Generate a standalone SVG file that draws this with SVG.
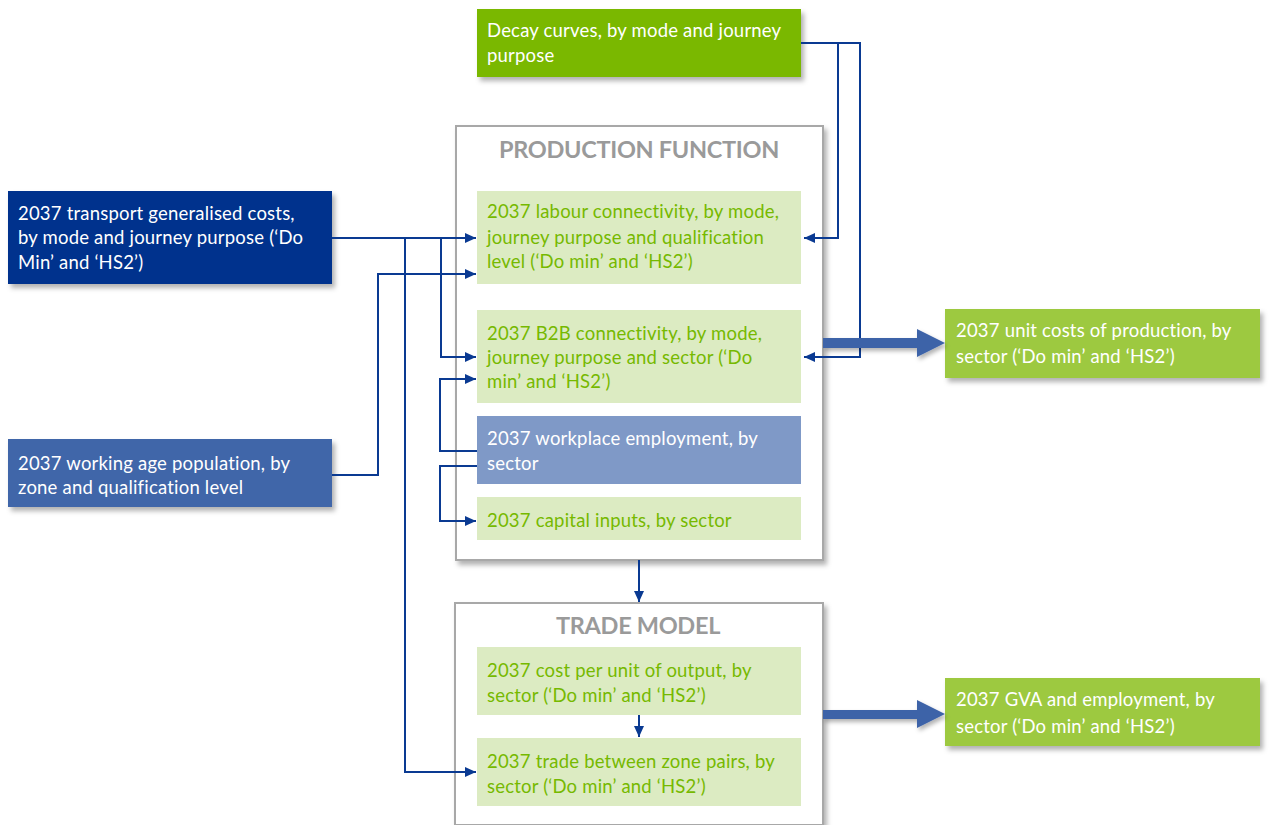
<svg xmlns="http://www.w3.org/2000/svg" width="1269" height="825" viewBox="0 0 1269 825">
<defs>
<filter id="sh" x="-10%" y="-10%" width="125%" height="140%">
<feDropShadow dx="3" dy="4" stdDeviation="2.5" flood-color="#000" flood-opacity="0.3"/>
</filter>
<filter id="sh2" x="-10%" y="-30%" width="125%" height="180%">
<feDropShadow dx="2" dy="3" stdDeviation="2" flood-color="#000" flood-opacity="0.3"/>
</filter>
<marker id="ah" markerWidth="12" markerHeight="12" refX="11" refY="6" orient="auto" markerUnits="userSpaceOnUse">
<path d="M0,1 L11,6 L0,11 Z" fill="#0a3a92"/>
</marker>
<style>
text{font-family:"Lato","Open Sans","Liberation Sans",sans-serif;font-size:18.5px;letter-spacing:0.2px}
.w{fill:#ffffff}
.g{fill:#76b900}
.t{font-weight:bold;fill:#9a9a9a;font-size:23.5px;text-anchor:middle;letter-spacing:-0.3px}
.frame{fill:#ffffff;stroke:#a8a8a8;stroke-width:2}
.lg{fill:#dcebc2}
.c{fill:none;stroke:#0a3a92;stroke-width:2}
.big{fill:#3e63a8}
</style>
</defs>

<g id="production-function">
<rect class="frame" x="456" y="126" width="367" height="434" filter="url(#sh)"/>
<text class="t" x="639" y="158">PRODUCTION FUNCTION</text>
</g>
<g id="trade-model">
<rect class="frame" x="455" y="603" width="368" height="222" filter="url(#sh)"/>
<text class="t" x="638" y="634">TRADE MODEL</text>
</g>

<g id="decay">
<rect x="477" y="9" width="324" height="68" fill="#7ab800" filter="url(#sh)"/>
<text class="w" x="487" y="37">Decay curves, by mode and journey</text>
<text class="w" x="487" y="62">purpose</text>
</g>

<g id="transport">
<rect x="8" y="191" width="324" height="93" fill="#00338d" filter="url(#sh)"/>
<text class="w" x="18" y="220">2037 transport generalised costs,</text>
<text class="w" x="18" y="244">by mode and journey purpose (‘Do</text>
<text class="w" x="18" y="269">Min’ and ‘HS2’)</text>
</g>

<g id="working-age">
<rect x="8" y="439" width="324" height="68" fill="#3f66a9" filter="url(#sh)"/>
<text class="w" x="18" y="470">2037 working age population, by</text>
<text class="w" x="18" y="494">zone and qualification level</text>
</g>

<g id="labour">
<rect class="lg" x="477" y="191" width="324" height="93"/>
<text class="g" x="487" y="218">2037 labour connectivity, by mode,</text>
<text class="g" x="487" y="244">journey purpose and qualification</text>
<text class="g" x="487" y="268">level (‘Do min’ and ‘HS2’)</text>
</g>

<g id="b2b">
<rect class="lg" x="477" y="310" width="324" height="93"/>
<text class="g" x="487" y="340">2037 B2B connectivity, by mode,</text>
<text class="g" x="487" y="364">journey purpose and sector (‘Do</text>
<text class="g" x="487" y="388">min’ and ‘HS2’)</text>
</g>

<g id="workplace">
<rect x="477" y="416" width="324" height="68" fill="#7f99c7"/>
<text class="w" x="487" y="445">2037 workplace employment, by</text>
<text class="w" x="487" y="470">sector</text>
</g>

<g id="capital">
<rect class="lg" x="477" y="497" width="324" height="43"/>
<text class="g" x="487" y="527">2037 capital inputs, by sector</text>
</g>

<g id="cost-per-unit">
<rect class="lg" x="477" y="647" width="324" height="68"/>
<text class="g" x="487" y="677">2037 cost per unit of output, by</text>
<text class="g" x="487" y="702">sector (‘Do min’ and ‘HS2’)</text>
</g>

<g id="trade-zone">
<rect class="lg" x="477" y="738" width="324" height="68"/>
<text class="g" x="487" y="768">2037 trade between zone pairs, by</text>
<text class="g" x="487" y="793">sector (‘Do min’ and ‘HS2’)</text>
</g>

<g id="unit-costs">
<rect x="945" y="309" width="315" height="69" fill="#9dc93f" filter="url(#sh)"/>
<text class="w" x="956" y="337">2037 unit costs of production, by</text>
<text class="w" x="956" y="363">sector (‘Do min’ and ‘HS2’)</text>
</g>

<g id="gva">
<rect x="945" y="678" width="315" height="68" fill="#9dc93f" filter="url(#sh)"/>
<text class="w" x="956" y="706">2037 GVA and employment, by</text>
<text class="w" x="956" y="733">sector (‘Do min’ and ‘HS2’)</text>
</g>

<g id="connectors">
<path class="c" d="M332,238 H476" marker-end="url(#ah)"/>
<path class="c" d="M441,238 V357 H476" marker-end="url(#ah)"/>
<path class="c" d="M405,238 V772 H476" marker-end="url(#ah)"/>
<path class="c" d="M332,475 H378 V274 H476" marker-end="url(#ah)"/>
<path class="c" d="M477,451 H440 V379 H476" marker-end="url(#ah)"/>
<path class="c" d="M477,466 H440 V521 H476" marker-end="url(#ah)"/>
<path class="c" d="M801,43 H838 V238 H804" marker-end="url(#ah)"/>
<path class="c" d="M838,43 H860 V357 H804" marker-end="url(#ah)"/>
<path class="c" d="M639,560 V602" marker-end="url(#ah)"/>
<path class="c" d="M639,715 V737" marker-end="url(#ah)"/>
<path class="big" d="M823,338 H917 V329 L945,343 L917,357 V348 H823 Z" filter="url(#sh2)"/>
<path class="big" d="M823,710 H917 V700 L945,714 L917,728 V719 H823 Z" filter="url(#sh2)"/>
</g>
</svg>
